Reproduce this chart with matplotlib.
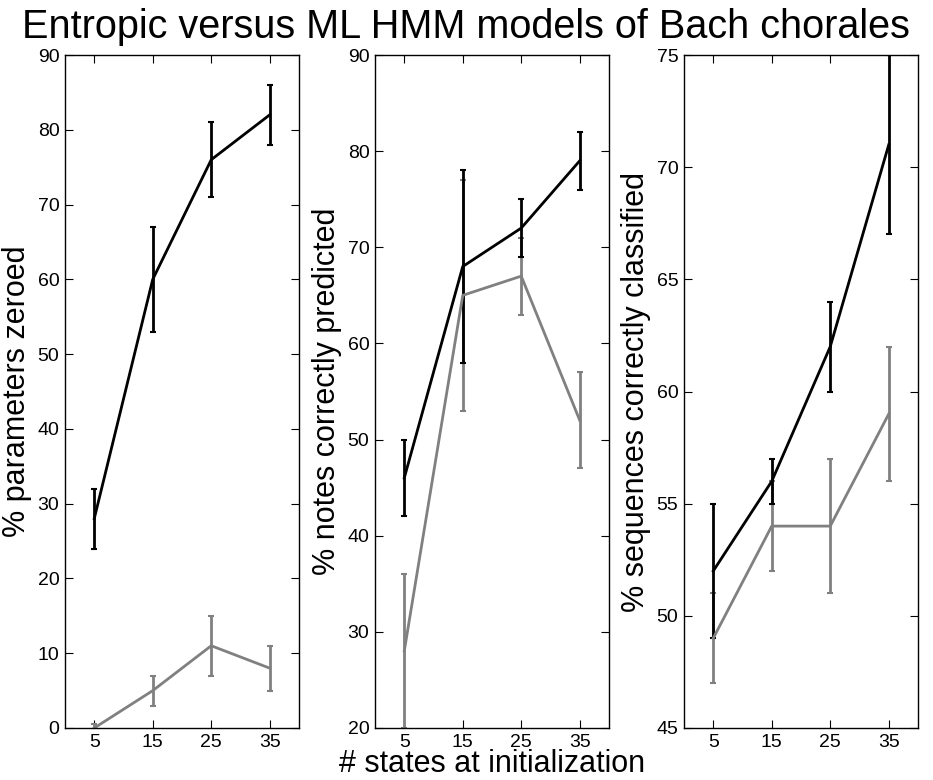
import matplotlib
matplotlib.use("Agg")
import matplotlib.pyplot as plt
import numpy as np

plt.rcParams['font.family'] = ['Liberation Sans', 'DejaVu Sans']

# ---- data ----
states = [5, 15, 25, 35]
xticks = [5, 15, 25, 35]

# panel 1: % parameters zeroed
zeroed_entropic = [28, 60, 76, 82]
zeroed_entropic_err = [4, 7, 5, 4]
zeroed_ml = [0, 5, 11, 8]
zeroed_ml_err = [0.5, 2, 4, 3]

# panel 2: % notes correctly predicted
notes_entropic = [46, 68, 72, 79]
notes_entropic_err = [4, 10, 3, 3]
notes_ml = [28, 65, 67, 52]
notes_ml_err = [8, 12, 4, 5]

# panel 3: % sequences correctly classified
seq_entropic = [52, 56, 62, 71]
seq_entropic_err = [3, 1, 2, 4]
seq_ml = [49, 54, 54, 59]
seq_ml_err = [2, 2, 3, 3]

ylabels = ['% parameters zeroed', '% notes correctly predicted',
           '% sequences correctly classified']
ylims = [(0, 90), (20, 90), (45, 75)]
ytick_steps = [10, 10, 5]
title = 'Entropic versus ML HMM models of Bach chorales'
xlabel = '# states at initialization'

panels = [
    (zeroed_entropic, zeroed_entropic_err, zeroed_ml, zeroed_ml_err),
    (notes_entropic, notes_entropic_err, notes_ml, notes_ml_err),
    (seq_entropic, seq_entropic_err, seq_ml, seq_ml_err),
]

W, H = 933, 780
fig = plt.figure(figsize=(W / 100, H / 100), dpi=100)

lefts_px = [65, 375, 684]
width_px = 234
top_px, bottom_px = 55, 728
grey = '#808080'

axes = []
for i, (ent, ent_e, ml, ml_e) in enumerate(panels):
    ax = fig.add_axes([lefts_px[i] / W, 1 - bottom_px / H,
                       width_px / W, (bottom_px - top_px) / H])
    ax.errorbar(states, ml, yerr=ml_e, color=grey, lw=2, elinewidth=2,
                capsize=2.2, capthick=1.5)
    ax.errorbar(states, ent, yerr=ent_e, color='black', lw=2, elinewidth=2,
                capsize=2.2, capthick=1.5)
    ax.set_xlim(0, 40)
    ax.set_ylim(*ylims[i])
    ax.set_xticks(xticks)
    lo, hi = ylims[i]
    ax.set_yticks(np.arange(lo, hi + 0.1, ytick_steps[i]))
    ax.tick_params(direction='in', top=True, right=True, length=6,
                   width=0.8, labelsize=14, pad=4)
    for sp in ax.spines.values():
        sp.set_linewidth(1.0)
    ax.set_ylabel(ylabels[i], fontsize=22, labelpad=4)
    axes.append(ax)

axes[1].set_xlabel(xlabel, fontsize=22, labelpad=-1)

fig.text(22 / W, 1 - 38 / H, title, ha='left', va='baseline', fontsize=28.5)

fig.savefig('out.png', dpi=100)
